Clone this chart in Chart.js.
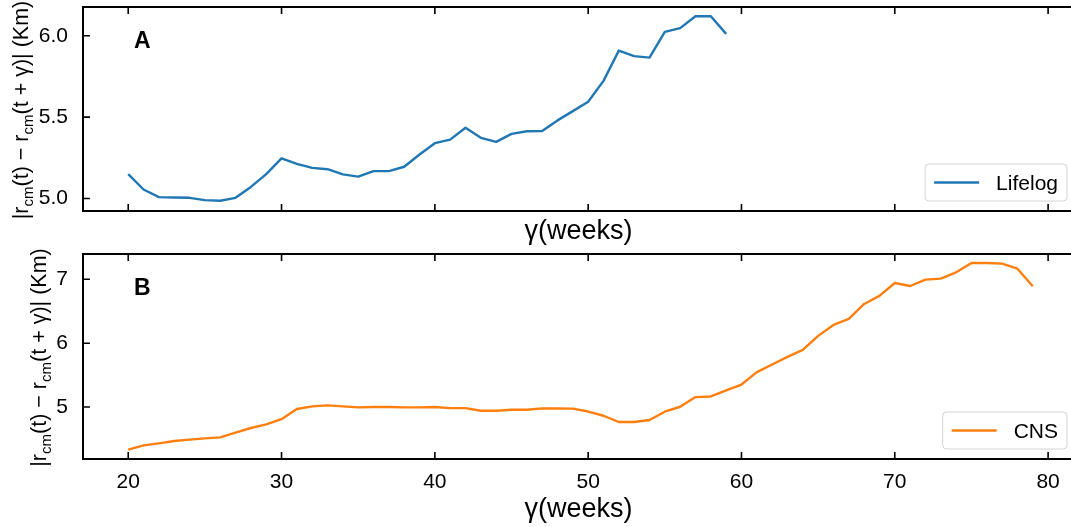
<!DOCTYPE html>
<html>
<head>
<meta charset="utf-8">
<script src="https://cdn.jsdelivr.net/npm/chart.js@4/dist/chart.umd.min.js"></script>
<style>
  html, body { margin: 0; padding: 0; background: #fff; overflow: hidden; }
  #wrap { position: relative; width: 1071px; height: 527px; overflow: hidden; background: #fff; }
  canvas { position: absolute; left: 0; }
</style>
</head>
<body>
<div id="wrap">
  <canvas id="panelA" width="1090" height="250" style="top:0"></canvas>
  <canvas id="panelB" width="1090" height="287" style="top:240px"></canvas>
</div>
<script>
// Lag in weeks (γ) for each series
const WEEKS_LIFELOG = [20, 21, 22, 23, 24, 25, 26, 27, 28, 29,
                       30, 31, 32, 33, 34, 35, 36, 37, 38, 39,
                       40, 41, 42, 43, 44, 45, 46, 47, 48, 49,
                       50, 51, 52, 53, 54, 55, 56, 57, 58, 59];
const WEEKS_CNS = [20, 21, 22, 23, 24, 25, 26, 27, 28, 29,
                   30, 31, 32, 33, 34, 35, 36, 37, 38, 39,
                   40, 41, 42, 43, 44, 45, 46, 47, 48, 49,
                   50, 51, 52, 53, 54, 55, 56, 57, 58, 59,
                   60, 61, 62, 63, 64, 65, 66, 67, 68, 69,
                   70, 71, 72, 73, 74, 75, 76, 77, 78, 79];

// Mean displacement of the centre of mass (km)
const LIFELOG = [5.150, 5.055, 5.008, 5.006, 5.004, 4.990, 4.986, 5.004, 5.071, 5.150,
                 5.247, 5.213, 5.188, 5.180, 5.148, 5.134, 5.168, 5.168, 5.195, 5.270,
                 5.340, 5.362, 5.435, 5.373, 5.348, 5.397, 5.413, 5.415, 5.480, 5.537,
                 5.595, 5.723, 5.909, 5.875, 5.866, 6.024, 6.047, 6.120, 6.120, 6.012];
const CNS = [4.333, 4.400, 4.432, 4.468, 4.490, 4.510, 4.525, 4.600, 4.672, 4.730,
             4.810, 4.970, 5.010, 5.026, 5.010, 4.995, 5.000, 5.000, 4.995, 4.995,
             5.000, 4.984, 4.984, 4.942, 4.942, 4.958, 4.958, 4.980, 4.978, 4.975,
             4.930, 4.864, 4.766, 4.766, 4.797, 4.927, 5.005, 5.156, 5.166, 5.260,
             5.353, 5.547, 5.666, 5.786, 5.895, 6.114, 6.286, 6.380, 6.614, 6.740,
             6.942, 6.895, 6.995, 7.010, 7.110, 7.255, 7.255, 7.245, 7.166, 6.890];

// Tick positions and labels
const X_TICKS = [20, 30, 40, 50, 60, 70, 80];
const X_LABELS = ['20', '30', '40', '50', '60', '70', '80'];
const Y_TICKS_A = [5.0, 5.5, 6.0];
const Y_LABELS_A = ['5.0', '5.5', '6.0'];
const Y_TICKS_B = [5, 6, 7];
const Y_LABELS_B = ['5', '6', '7'];

const SERIES_NAMES = ['Lifelog', 'CNS'];
const PANEL_LETTERS = ['A', 'B'];
const X_TITLE = 'γ(weeks)';
// y title pieces: plain text and subscripts
const Y_TITLE_PARTS = [
  { t: '|r' }, { t: 'cm', sub: true }, { t: '(t) − r' }, { t: 'cm', sub: true }, { t: '(t + γ)| (Km)' }
];

const BLUE = '#1f77b4';
const ORANGE = '#ff7f0e';
const FONT = '"Liberation Sans", Arial, sans-serif';

function drawYTitle(ctx, baseX, centerY, size) {
  const subSize = size * 0.7;
  const pieces = Y_TITLE_PARTS.map(p => {
    ctx.font = (p.sub ? subSize : size) + 'px ' + FONT;
    return { ...p, w: ctx.measureText(p.t).width };
  });
  const total = pieces.reduce((s, p) => s + p.w, 0);
  ctx.save();
  ctx.translate(baseX, centerY);
  ctx.rotate(-Math.PI / 2);
  ctx.fillStyle = '#000';
  ctx.textBaseline = 'alphabetic';
  ctx.textAlign = 'left';
  let cx = -total / 2;
  pieces.forEach(p => {
    ctx.font = (p.sub ? subSize : size) + 'px ' + FONT;
    ctx.fillText(p.t, cx, p.sub ? size * 0.22 : 0);
    cx += p.w;
  });
  ctx.restore();
}

const panelDecor = {
  id: 'panelDecor',
  afterDraw(chart, args, o) {
    const { ctx, chartArea: a } = chart;
    const x = chart.scales.x, y = chart.scales.y;
    ctx.save();

    // inward tick marks on all four sides
    const TL = 7;
    ctx.strokeStyle = '#000';
    ctx.lineWidth = 1.6;
    ctx.beginPath();
    X_TICKS.forEach(v => {
      const px = x.getPixelForValue(v);
      ctx.moveTo(px, a.bottom); ctx.lineTo(px, a.bottom - TL);
      ctx.moveTo(px, a.top); ctx.lineTo(px, a.top + TL);
    });
    o.yTicks.forEach(v => {
      const py = y.getPixelForValue(v);
      ctx.moveTo(a.left, py); ctx.lineTo(a.left + TL, py);
      ctx.moveTo(a.right, py); ctx.lineTo(a.right - TL, py);
    });
    ctx.stroke();

    // axes frame
    ctx.lineWidth = 2;
    ctx.strokeRect(a.left, a.top, a.right - a.left, a.bottom - a.top);

    // panel letter
    ctx.fillStyle = '#000';
    ctx.font = 'bold 23px ' + FONT;
    ctx.textAlign = 'left';
    ctx.textBaseline = 'alphabetic';
    ctx.fillText(o.letter, a.left + 51, a.top + 41);

    // legend (lower right)
    ctx.font = '21px ' + FONT;
    const tw = ctx.measureText(o.label).width;
    const w = 9 + 45 + 17 + tw + 9, h = 37;
    const bx = a.right - 11 - w, by = a.bottom - 10 - h;
    ctx.beginPath();
    ctx.roundRect(bx, by, w, h, 4);
    ctx.fillStyle = 'rgba(255,255,255,0.85)';
    ctx.fill();
    ctx.strokeStyle = '#d3d3d3';
    ctx.lineWidth = 1;
    ctx.stroke();
    ctx.beginPath();
    ctx.strokeStyle = o.color;
    ctx.lineWidth = 2.4;
    ctx.moveTo(bx + 9, by + h / 2);
    ctx.lineTo(bx + 54, by + h / 2);
    ctx.stroke();
    ctx.fillStyle = '#000';
    ctx.fillText(o.label, bx + 71, by + h / 2 + 7.5);

    // axis titles
    ctx.font = '27px ' + FONT;
    ctx.textAlign = 'center';
    ctx.fillText(X_TITLE, (a.left + a.right) / 2 - 2, a.bottom + o.xTitleOffset);
    drawYTitle(ctx, o.yTitleX, (a.top + a.bottom) / 2 + 1, 21.5);

    ctx.restore();
  }
};

function makePanel(id, cfg) {
  const pts = cfg.weeks.map((w, i) => ({ x: w, y: cfg.values[i] }));
  return new Chart(document.getElementById(id), {
    type: 'line',
    data: {
      datasets: [{
        label: cfg.label,
        data: pts,
        borderColor: cfg.color,
        backgroundColor: cfg.color,
        borderWidth: 2.4,
        pointRadius: 0,
        tension: 0,
        fill: false,
        borderJoinStyle: 'round',
        borderCapStyle: 'butt'
      }]
    },
    options: {
      responsive: false,
      animation: false,
      devicePixelRatio: 1,
      layout: { padding: { left: 0, top: cfg.top, right: 12, bottom: 0 } },
      plugins: {
        legend: { display: false },
        tooltip: { enabled: false },
        panelDecor: {
          letter: cfg.letter, label: cfg.label, color: cfg.color,
          yTicks: cfg.yTicks, xTitleOffset: cfg.xTitleOffset, yTitleX: cfg.yTitleX
        }
      },
      scales: {
        x: {
          type: 'linear',
          min: 17.05, max: 81.95,
          afterFit: s => { s.height = cfg.xHeight; s.paddingLeft = 0; s.paddingRight = 0; },
          afterBuildTicks: s => { s.ticks = X_TICKS.map(v => ({ value: v })); },
          grid: { display: false, drawTicks: false },
          border: { display: false },
          ticks: {
            display: cfg.showX,
            padding: 11,
            maxRotation: 0,
            autoSkip: false,
            color: '#000',
            font: { family: FONT, size: 21 },
            callback: (v, i) => X_LABELS[i]
          }
        },
        y: {
          type: 'linear',
          min: cfg.yMin, max: cfg.yMax,
          afterFit: s => { s.width = 83; s.paddingTop = 0; s.paddingBottom = 0; },
          afterBuildTicks: s => { s.ticks = cfg.yTicks.map(v => ({ value: v })); },
          grid: { display: false, drawTicks: false },
          border: { display: false },
          ticks: {
            padding: 15,
            autoSkip: false,
            color: '#000',
            font: { family: FONT, size: 21 },
            callback: (v, i) => cfg.yLabels[i]
          }
        }
      }
    },
    plugins: [panelDecor]
  });
}

makePanel('panelA', {
  weeks: WEEKS_LIFELOG, values: LIFELOG, label: SERIES_NAMES[0], color: BLUE,
  letter: PANEL_LETTERS[0], yTicks: Y_TICKS_A, yLabels: Y_LABELS_A,
  yMin: 4.923, yMax: 6.177, top: 7, xHeight: 39, showX: false, xTitleOffset: 28, yTitleX: 28
});
makePanel('panelB', {
  weeks: WEEKS_CNS, values: CNS, label: SERIES_NAMES[1], color: ORANGE,
  letter: PANEL_LETTERS[1], yTicks: Y_TICKS_B, yLabels: Y_LABELS_B,
  yMin: 4.187, yMax: 7.396, top: 14, xHeight: 68, showX: true, xTitleOffset: 58, yTitleX: 46
});
</script>
</body>
</html>
